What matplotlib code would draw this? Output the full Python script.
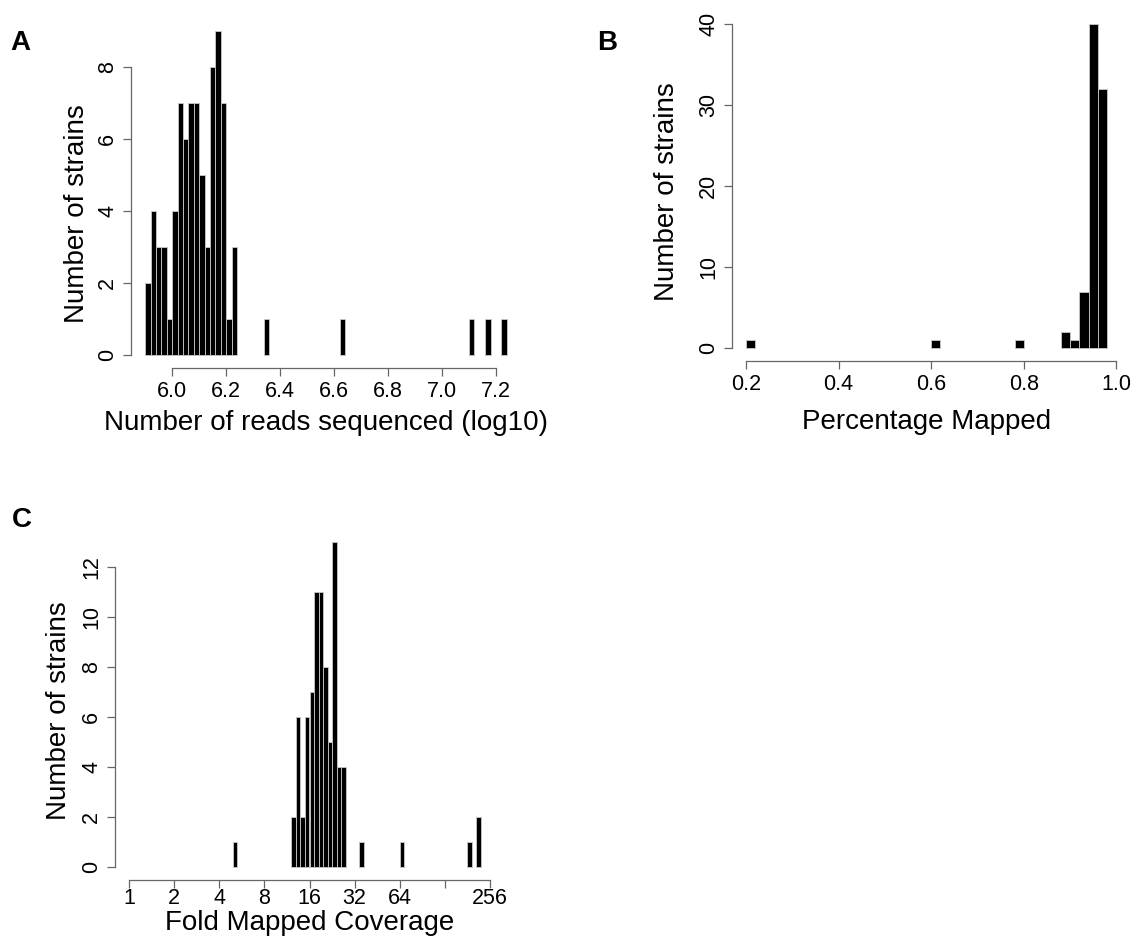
import matplotlib
matplotlib.use('Agg')
import matplotlib.pyplot as plt
import numpy as np

plt.rcParams.update({
    'font.family': ['Liberation Sans', 'DejaVu Sans'],
    'xtick.labelsize': 15.5,
    'ytick.labelsize': 15.5,
    'axes.labelsize': 20,
})

# A: reads sequenced (log10), bins of 0.02
reads_left = [5.90, 5.92, 5.94, 5.96, 5.98, 6.00, 6.02, 6.04, 6.06, 6.08, 6.10,
              6.12, 6.14, 6.16, 6.18, 6.20, 6.22, 6.34, 6.62, 7.10, 7.16, 7.22]
reads_count = [2, 4, 3, 3, 1, 4, 7, 6, 7, 7, 5, 3, 8, 9, 7, 1, 3, 1, 1, 1, 1, 1]
reads_ticks = [6.0, 6.2, 6.4, 6.6, 6.8, 7.0, 7.2]

# B: percentage mapped, bins of 0.02
mapped_left = [0.20, 0.60, 0.78, 0.88, 0.90, 0.92, 0.94, 0.96]
mapped_count = [1, 1, 1, 2, 1, 7, 40, 32]
mapped_ticks = [0.2, 0.4, 0.6, 0.8, 1.0]

# C: fold mapped coverage (log2), bins of 0.1
cov_left = [2.3, 3.6, 3.7, 3.8, 3.9, 4.0, 4.1, 4.2, 4.3, 4.4, 4.5, 4.6, 4.7,
            5.1, 6.0, 7.5, 7.7]
cov_count = [1, 2, 6, 2, 6, 7, 11, 11, 8, 5, 13, 4, 4, 1, 1, 1, 2]
cov_ticks = [1, 2, 4, 8, 16, 32, 64, 128, 256]
cov_labels = ['1', '2', '4', '8', '16', '32', '64', '', '256']

W, H = 1136, 947
fig = plt.figure(figsize=(W / 100, H / 100), dpi=100)


def px_axes(left, top, right, bottom):
    return fig.add_axes([left / W, 1 - bottom / H, (right - left) / W, (bottom - top) / H])


def r_style(ax, xb, yb, xpad=3):
    # axes drawn like base R: lines only between first and last tick
    for s in ['top', 'right']:
        ax.spines[s].set_visible(False)
    for s in ['left', 'bottom']:
        ax.spines[s].set_color('#666666')
        ax.spines[s].set_linewidth(0.9)
    ax.spines['bottom'].set_bounds(*xb)
    ax.spines['left'].set_bounds(*yb)
    ax.tick_params(length=6, width=0.9, color='#666666', pad=3)
    ax.tick_params(axis='x', pad=xpad)
    ax.tick_params(axis='y', labelrotation=90)
    for lab in ax.get_yticklabels():
        lab.set_va('center')


# panel A
axA = px_axes(130.7, 18, 521.4, 368)
axA.bar(reads_left, reads_count, width=0.02, align='edge', color='black',
        edgecolor='#c8c8c8', linewidth=0.6)
axA.set_xlim(5.846, 7.294)
axA.set_ylim(-0.36, 9.36)
axA.set_xticks(reads_ticks)
axA.set_xticklabels([f'{t:.1f}' for t in reads_ticks])
axA.set_yticks([0, 2, 4, 6, 8])
r_style(axA, (6.0, 7.2), (0, 8))
axA.set_xlabel('Number of reads sequenced (log10)', labelpad=6)
axA.set_ylabel('Number of strains')
axA.yaxis.set_label_coords(-0.104, 0.44)

# panel B
axB = px_axes(731.6, 11.3, 1121.6, 361.3)
axB.bar(mapped_left, mapped_count, width=0.02, align='edge', color='black',
        edgecolor='#c8c8c8', linewidth=0.6)
axB.set_xlim(0.1688, 1.0112)
axB.set_ylim(-1.6, 41.6)
axB.set_xticks(mapped_ticks)
axB.set_xticklabels([f'{t:.1f}' for t in mapped_ticks])
axB.set_yticks([0, 10, 20, 30, 40])
r_style(axB, (0.2, 1.0), (0, 40))
axB.set_xlabel('Percentage Mapped', labelpad=10)
axB.set_ylabel('Number of strains')
axB.yaxis.set_label_coords(-0.132, 0.485)

# panel C
axC = px_axes(114.6, 529.4, 504.4, 879.7)
axC.bar(cov_left, cov_count, width=0.1, align='edge', color='black',
        edgecolor='#c8c8c8', linewidth=0.6)
axC.set_xlim(-0.32, 8.32)
axC.set_ylim(-0.52, 13.52)
axC.set_xticks(np.log2(cov_ticks))
axC.set_xticklabels(cov_labels)
axC.set_yticks([0, 2, 4, 6, 8, 10, 12])
r_style(axC, (0, 8), (0, 12), xpad=0)
axC.set_xlabel('Fold Mapped Coverage', labelpad=1)
axC.set_ylabel('Number of strains')
axC.yaxis.set_label_coords(-0.109, 0.484)

# panel letters
for x, y, letter in [(20, 43, 'A'), (607, 43, 'B'), (22, 520, 'C')]:
    fig.text(x / W, 1 - y / H, letter, fontsize=20, fontweight='bold',
             ha='center', va='center')

fig.savefig('out.png', dpi=100)
